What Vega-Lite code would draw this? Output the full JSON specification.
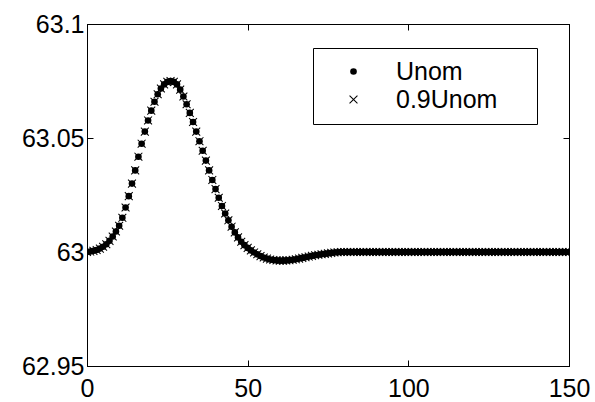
{
  "$schema": "https://vega.github.io/schema/vega-lite/v6.json",
  "width": 482,
  "height": 342,
  "autosize": {"type": "none"},
  "padding": {"left": 87, "top": 24, "right": 26, "bottom": 36},
  "background": "white",
  "config": {
    "font": "Liberation Sans",
    "view": {"stroke": "black", "strokeWidth": 1},
    "axis": {
      "grid": false,
      "domainColor": "black",
      "domainWidth": 1,
      "tickColor": "black",
      "tickWidth": 1,
      "tickSize": -6,
      "labelColor": "black",
      "labelFont": "Liberation Sans",
      "labelFontSize": 25,
      "labelFlush": false,
      "labelOverlap": false,
      "title": null
    }
  },
  "data": {"values": [
    {"x":0,"y":63.0000,"s":"Unom"},{"x":1,"y":63.0002,"s":"Unom"},{"x":2,"y":63.0005,"s":"Unom"},{"x":3,"y":63.0009,"s":"Unom"},{"x":4,"y":63.0015,"s":"Unom"},{"x":5,"y":63.0023,"s":"Unom"},{"x":6,"y":63.0034,"s":"Unom"},{"x":7,"y":63.0049,"s":"Unom"},{"x":8,"y":63.0068,"s":"Unom"},{"x":9,"y":63.0090,"s":"Unom"},
    {"x":10,"y":63.0115,"s":"Unom"},{"x":11,"y":63.0150,"s":"Unom"},{"x":12,"y":63.0195,"s":"Unom"},{"x":13,"y":63.0245,"s":"Unom"},{"x":14,"y":63.0300,"s":"Unom"},{"x":15,"y":63.0358,"s":"Unom"},{"x":16,"y":63.0418,"s":"Unom"},{"x":17,"y":63.0475,"s":"Unom"},{"x":18,"y":63.0528,"s":"Unom"},{"x":19,"y":63.0577,"s":"Unom"},
    {"x":20,"y":63.0620,"s":"Unom"},{"x":21,"y":63.0659,"s":"Unom"},{"x":22,"y":63.0692,"s":"Unom"},{"x":23,"y":63.0717,"s":"Unom"},{"x":24,"y":63.0735,"s":"Unom"},{"x":25,"y":63.0746,"s":"Unom"},{"x":26,"y":63.0750,"s":"Unom"},{"x":27,"y":63.0746,"s":"Unom"},{"x":28,"y":63.0735,"s":"Unom"},{"x":29,"y":63.0712,"s":"Unom"},
    {"x":30,"y":63.0682,"s":"Unom"},{"x":31,"y":63.0648,"s":"Unom"},{"x":32,"y":63.0610,"s":"Unom"},{"x":33,"y":63.0570,"s":"Unom"},{"x":34,"y":63.0528,"s":"Unom"},{"x":35,"y":63.0486,"s":"Unom"},{"x":36,"y":63.0444,"s":"Unom"},{"x":37,"y":63.0401,"s":"Unom"},{"x":38,"y":63.0358,"s":"Unom"},{"x":39,"y":63.0316,"s":"Unom"},
    {"x":40,"y":63.0276,"s":"Unom"},{"x":41,"y":63.0238,"s":"Unom"},{"x":42,"y":63.0202,"s":"Unom"},{"x":43,"y":63.0169,"s":"Unom"},{"x":44,"y":63.0139,"s":"Unom"},{"x":45,"y":63.0111,"s":"Unom"},{"x":46,"y":63.0086,"s":"Unom"},{"x":47,"y":63.0064,"s":"Unom"},{"x":48,"y":63.0045,"s":"Unom"},{"x":49,"y":63.0030,"s":"Unom"},
    {"x":50,"y":63.0018,"s":"Unom"},{"x":51,"y":63.0007,"s":"Unom"},{"x":52,"y":62.9998,"s":"Unom"},{"x":53,"y":62.9990,"s":"Unom"},{"x":54,"y":62.9982,"s":"Unom"},{"x":55,"y":62.9976,"s":"Unom"},{"x":56,"y":62.9971,"s":"Unom"},{"x":57,"y":62.9967,"s":"Unom"},{"x":58,"y":62.9965,"s":"Unom"},{"x":59,"y":62.9963,"s":"Unom"},
    {"x":60,"y":62.9962,"s":"Unom"},{"x":61,"y":62.9962,"s":"Unom"},{"x":62,"y":62.9963,"s":"Unom"},{"x":63,"y":62.9964,"s":"Unom"},{"x":64,"y":62.9966,"s":"Unom"},{"x":65,"y":62.9968,"s":"Unom"},{"x":66,"y":62.9971,"s":"Unom"},{"x":67,"y":62.9974,"s":"Unom"},{"x":68,"y":62.9977,"s":"Unom"},{"x":69,"y":62.9980,"s":"Unom"},
    {"x":70,"y":62.9983,"s":"Unom"},{"x":71,"y":62.9986,"s":"Unom"},{"x":72,"y":62.9988,"s":"Unom"},{"x":73,"y":62.9990,"s":"Unom"},{"x":74,"y":62.9992,"s":"Unom"},{"x":75,"y":62.9994,"s":"Unom"},{"x":76,"y":62.9996,"s":"Unom"},{"x":77,"y":62.9998,"s":"Unom"},{"x":78,"y":62.9999,"s":"Unom"},{"x":79,"y":63,"s":"Unom"},
    {"x":80,"y":63,"s":"Unom"},{"x":81,"y":63,"s":"Unom"},{"x":82,"y":63,"s":"Unom"},{"x":83,"y":63,"s":"Unom"},{"x":84,"y":63,"s":"Unom"},{"x":85,"y":63,"s":"Unom"},{"x":86,"y":63,"s":"Unom"},{"x":87,"y":63,"s":"Unom"},{"x":88,"y":63,"s":"Unom"},{"x":89,"y":63,"s":"Unom"},
    {"x":90,"y":63,"s":"Unom"},{"x":91,"y":63,"s":"Unom"},{"x":92,"y":63,"s":"Unom"},{"x":93,"y":63,"s":"Unom"},{"x":94,"y":63,"s":"Unom"},{"x":95,"y":63,"s":"Unom"},{"x":96,"y":63,"s":"Unom"},{"x":97,"y":63,"s":"Unom"},{"x":98,"y":63,"s":"Unom"},{"x":99,"y":63,"s":"Unom"},
    {"x":100,"y":63,"s":"Unom"},{"x":101,"y":63,"s":"Unom"},{"x":102,"y":63,"s":"Unom"},{"x":103,"y":63,"s":"Unom"},{"x":104,"y":63,"s":"Unom"},{"x":105,"y":63,"s":"Unom"},{"x":106,"y":63,"s":"Unom"},{"x":107,"y":63,"s":"Unom"},{"x":108,"y":63,"s":"Unom"},{"x":109,"y":63,"s":"Unom"},
    {"x":110,"y":63,"s":"Unom"},{"x":111,"y":63,"s":"Unom"},{"x":112,"y":63,"s":"Unom"},{"x":113,"y":63,"s":"Unom"},{"x":114,"y":63,"s":"Unom"},{"x":115,"y":63,"s":"Unom"},{"x":116,"y":63,"s":"Unom"},{"x":117,"y":63,"s":"Unom"},{"x":118,"y":63,"s":"Unom"},{"x":119,"y":63,"s":"Unom"},
    {"x":120,"y":63,"s":"Unom"},{"x":121,"y":63,"s":"Unom"},{"x":122,"y":63,"s":"Unom"},{"x":123,"y":63,"s":"Unom"},{"x":124,"y":63,"s":"Unom"},{"x":125,"y":63,"s":"Unom"},{"x":126,"y":63,"s":"Unom"},{"x":127,"y":63,"s":"Unom"},{"x":128,"y":63,"s":"Unom"},{"x":129,"y":63,"s":"Unom"},
    {"x":130,"y":63,"s":"Unom"},{"x":131,"y":63,"s":"Unom"},{"x":132,"y":63,"s":"Unom"},{"x":133,"y":63,"s":"Unom"},{"x":134,"y":63,"s":"Unom"},{"x":135,"y":63,"s":"Unom"},{"x":136,"y":63,"s":"Unom"},{"x":137,"y":63,"s":"Unom"},{"x":138,"y":63,"s":"Unom"},{"x":139,"y":63,"s":"Unom"},
    {"x":140,"y":63,"s":"Unom"},{"x":141,"y":63,"s":"Unom"},{"x":142,"y":63,"s":"Unom"},{"x":143,"y":63,"s":"Unom"},{"x":144,"y":63,"s":"Unom"},{"x":145,"y":63,"s":"Unom"},{"x":146,"y":63,"s":"Unom"},{"x":147,"y":63,"s":"Unom"},{"x":148,"y":63,"s":"Unom"},{"x":149,"y":63,"s":"Unom"},{"x":150,"y":63,"s":"Unom"},
    {"x":0,"y":63.0000,"s":"0.9Unom"},{"x":1,"y":63.0002,"s":"0.9Unom"},{"x":2,"y":63.0005,"s":"0.9Unom"},{"x":3,"y":63.0009,"s":"0.9Unom"},{"x":4,"y":63.0015,"s":"0.9Unom"},{"x":5,"y":63.0023,"s":"0.9Unom"},{"x":6,"y":63.0034,"s":"0.9Unom"},{"x":7,"y":63.0049,"s":"0.9Unom"},{"x":8,"y":63.0068,"s":"0.9Unom"},{"x":9,"y":63.0090,"s":"0.9Unom"},
    {"x":10,"y":63.0115,"s":"0.9Unom"},{"x":11,"y":63.0150,"s":"0.9Unom"},{"x":12,"y":63.0195,"s":"0.9Unom"},{"x":13,"y":63.0245,"s":"0.9Unom"},{"x":14,"y":63.0300,"s":"0.9Unom"},{"x":15,"y":63.0358,"s":"0.9Unom"},{"x":16,"y":63.0418,"s":"0.9Unom"},{"x":17,"y":63.0475,"s":"0.9Unom"},{"x":18,"y":63.0528,"s":"0.9Unom"},{"x":19,"y":63.0577,"s":"0.9Unom"},
    {"x":20,"y":63.0620,"s":"0.9Unom"},{"x":21,"y":63.0659,"s":"0.9Unom"},{"x":22,"y":63.0692,"s":"0.9Unom"},{"x":23,"y":63.0717,"s":"0.9Unom"},{"x":24,"y":63.0735,"s":"0.9Unom"},{"x":25,"y":63.0746,"s":"0.9Unom"},{"x":26,"y":63.0750,"s":"0.9Unom"},{"x":27,"y":63.0746,"s":"0.9Unom"},{"x":28,"y":63.0735,"s":"0.9Unom"},{"x":29,"y":63.0712,"s":"0.9Unom"},
    {"x":30,"y":63.0682,"s":"0.9Unom"},{"x":31,"y":63.0648,"s":"0.9Unom"},{"x":32,"y":63.0610,"s":"0.9Unom"},{"x":33,"y":63.0570,"s":"0.9Unom"},{"x":34,"y":63.0528,"s":"0.9Unom"},{"x":35,"y":63.0486,"s":"0.9Unom"},{"x":36,"y":63.0444,"s":"0.9Unom"},{"x":37,"y":63.0401,"s":"0.9Unom"},{"x":38,"y":63.0358,"s":"0.9Unom"},{"x":39,"y":63.0316,"s":"0.9Unom"},
    {"x":40,"y":63.0276,"s":"0.9Unom"},{"x":41,"y":63.0238,"s":"0.9Unom"},{"x":42,"y":63.0202,"s":"0.9Unom"},{"x":43,"y":63.0169,"s":"0.9Unom"},{"x":44,"y":63.0139,"s":"0.9Unom"},{"x":45,"y":63.0111,"s":"0.9Unom"},{"x":46,"y":63.0086,"s":"0.9Unom"},{"x":47,"y":63.0064,"s":"0.9Unom"},{"x":48,"y":63.0045,"s":"0.9Unom"},{"x":49,"y":63.0030,"s":"0.9Unom"},
    {"x":50,"y":63.0018,"s":"0.9Unom"},{"x":51,"y":63.0007,"s":"0.9Unom"},{"x":52,"y":62.9998,"s":"0.9Unom"},{"x":53,"y":62.9990,"s":"0.9Unom"},{"x":54,"y":62.9982,"s":"0.9Unom"},{"x":55,"y":62.9976,"s":"0.9Unom"},{"x":56,"y":62.9971,"s":"0.9Unom"},{"x":57,"y":62.9967,"s":"0.9Unom"},{"x":58,"y":62.9965,"s":"0.9Unom"},{"x":59,"y":62.9963,"s":"0.9Unom"},
    {"x":60,"y":62.9962,"s":"0.9Unom"},{"x":61,"y":62.9962,"s":"0.9Unom"},{"x":62,"y":62.9963,"s":"0.9Unom"},{"x":63,"y":62.9964,"s":"0.9Unom"},{"x":64,"y":62.9966,"s":"0.9Unom"},{"x":65,"y":62.9968,"s":"0.9Unom"},{"x":66,"y":62.9971,"s":"0.9Unom"},{"x":67,"y":62.9974,"s":"0.9Unom"},{"x":68,"y":62.9977,"s":"0.9Unom"},{"x":69,"y":62.9980,"s":"0.9Unom"},
    {"x":70,"y":62.9983,"s":"0.9Unom"},{"x":71,"y":62.9986,"s":"0.9Unom"},{"x":72,"y":62.9988,"s":"0.9Unom"},{"x":73,"y":62.9990,"s":"0.9Unom"},{"x":74,"y":62.9992,"s":"0.9Unom"},{"x":75,"y":62.9994,"s":"0.9Unom"},{"x":76,"y":62.9996,"s":"0.9Unom"},{"x":77,"y":62.9998,"s":"0.9Unom"},{"x":78,"y":62.9999,"s":"0.9Unom"},{"x":79,"y":63,"s":"0.9Unom"},
    {"x":80,"y":63,"s":"0.9Unom"},{"x":81,"y":63,"s":"0.9Unom"},{"x":82,"y":63,"s":"0.9Unom"},{"x":83,"y":63,"s":"0.9Unom"},{"x":84,"y":63,"s":"0.9Unom"},{"x":85,"y":63,"s":"0.9Unom"},{"x":86,"y":63,"s":"0.9Unom"},{"x":87,"y":63,"s":"0.9Unom"},{"x":88,"y":63,"s":"0.9Unom"},{"x":89,"y":63,"s":"0.9Unom"},
    {"x":90,"y":63,"s":"0.9Unom"},{"x":91,"y":63,"s":"0.9Unom"},{"x":92,"y":63,"s":"0.9Unom"},{"x":93,"y":63,"s":"0.9Unom"},{"x":94,"y":63,"s":"0.9Unom"},{"x":95,"y":63,"s":"0.9Unom"},{"x":96,"y":63,"s":"0.9Unom"},{"x":97,"y":63,"s":"0.9Unom"},{"x":98,"y":63,"s":"0.9Unom"},{"x":99,"y":63,"s":"0.9Unom"},
    {"x":100,"y":63,"s":"0.9Unom"},{"x":101,"y":63,"s":"0.9Unom"},{"x":102,"y":63,"s":"0.9Unom"},{"x":103,"y":63,"s":"0.9Unom"},{"x":104,"y":63,"s":"0.9Unom"},{"x":105,"y":63,"s":"0.9Unom"},{"x":106,"y":63,"s":"0.9Unom"},{"x":107,"y":63,"s":"0.9Unom"},{"x":108,"y":63,"s":"0.9Unom"},{"x":109,"y":63,"s":"0.9Unom"},
    {"x":110,"y":63,"s":"0.9Unom"},{"x":111,"y":63,"s":"0.9Unom"},{"x":112,"y":63,"s":"0.9Unom"},{"x":113,"y":63,"s":"0.9Unom"},{"x":114,"y":63,"s":"0.9Unom"},{"x":115,"y":63,"s":"0.9Unom"},{"x":116,"y":63,"s":"0.9Unom"},{"x":117,"y":63,"s":"0.9Unom"},{"x":118,"y":63,"s":"0.9Unom"},{"x":119,"y":63,"s":"0.9Unom"},
    {"x":120,"y":63,"s":"0.9Unom"},{"x":121,"y":63,"s":"0.9Unom"},{"x":122,"y":63,"s":"0.9Unom"},{"x":123,"y":63,"s":"0.9Unom"},{"x":124,"y":63,"s":"0.9Unom"},{"x":125,"y":63,"s":"0.9Unom"},{"x":126,"y":63,"s":"0.9Unom"},{"x":127,"y":63,"s":"0.9Unom"},{"x":128,"y":63,"s":"0.9Unom"},{"x":129,"y":63,"s":"0.9Unom"},
    {"x":130,"y":63,"s":"0.9Unom"},{"x":131,"y":63,"s":"0.9Unom"},{"x":132,"y":63,"s":"0.9Unom"},{"x":133,"y":63,"s":"0.9Unom"},{"x":134,"y":63,"s":"0.9Unom"},{"x":135,"y":63,"s":"0.9Unom"},{"x":136,"y":63,"s":"0.9Unom"},{"x":137,"y":63,"s":"0.9Unom"},{"x":138,"y":63,"s":"0.9Unom"},{"x":139,"y":63,"s":"0.9Unom"},
    {"x":140,"y":63,"s":"0.9Unom"},{"x":141,"y":63,"s":"0.9Unom"},{"x":142,"y":63,"s":"0.9Unom"},{"x":143,"y":63,"s":"0.9Unom"},{"x":144,"y":63,"s":"0.9Unom"},{"x":145,"y":63,"s":"0.9Unom"},{"x":146,"y":63,"s":"0.9Unom"},{"x":147,"y":63,"s":"0.9Unom"},{"x":148,"y":63,"s":"0.9Unom"},{"x":149,"y":63,"s":"0.9Unom"},{"x":150,"y":63,"s":"0.9Unom"}
  ]},
  "layer": [
    {
      "mark": {"type": "point", "filled": true, "color": "black", "strokeWidth": 0, "opacity": 1, "size": 44, "clip": true},
      "encoding": {
        "x": {"field": "x", "type": "quantitative",
              "scale": {"domain": [0, 150], "nice": false, "zero": false},
              "axis": {"orient": "bottom", "values": [0, 50, 100, 150], "labelPadding": 16, "domain": true}},
        "y": {"field": "y", "type": "quantitative",
              "scale": {"domain": [62.95, 63.1], "nice": false, "zero": false},
              "axis": {"orient": "left", "values": [62.95, 63, 63.05, 63.1], "format": "~g", "labelPadding": 9, "domain": true}},
        "shape": {"field": "s", "type": "nominal",
                  "scale": {"domain": ["Unom", "0.9Unom"], "range": ["circle", "M-1.3,-1.08L-1.08,-1.3L0,-0.22L1.08,-1.3L1.3,-1.08L0.22,0L1.3,1.08L1.08,1.3L0,0.22L-1.08,1.3L-1.3,1.08L-0.22,0Z"]},
                  "legend": {
                    "title": null, "orient": "none", "legendX": 226, "legendY": 24,
                    "padding": 11, "strokeColor": "black", "fillColor": "white", "cornerRadius": 0,
                    "labelFont": "Liberation Sans", "labelFontSize": 25, "labelColor": "black",
                    "labelExpr": "datum.label + '\u00a0\u00a0\u00a0\u00a0\u200b'",
                    "symbolSize": 44, "symbolFillColor": "black", "symbolStrokeWidth": 0,
                    "symbolOffset": 17, "labelOffset": 30, "rowPadding": 2,
                    "encode": {"symbols": {"fill": {"value": "black"}, "opacity": {"value": 1}}}
                  }}
      }
    },
    {
      "mark": {"type": "point", "opacity": 0},
      "encoding": {
        "x": {"field": "x", "type": "quantitative",
              "axis": {"orient": "top", "values": [0, 50, 100, 150], "labels": false, "domain": true}},
        "y": {"field": "y", "type": "quantitative",
              "axis": {"orient": "right", "values": [62.95, 63, 63.05, 63.1], "labels": false, "domain": true}}
      }
    }
  ],
  "resolve": {"axis": {"x": "independent", "y": "independent"}}
}
